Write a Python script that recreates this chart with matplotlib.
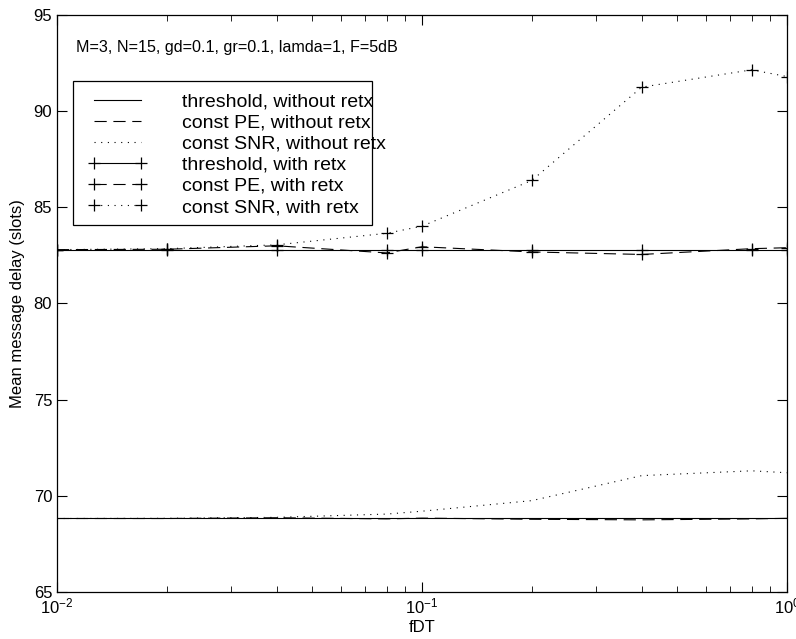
import matplotlib.pyplot as plt
from matplotlib.patches import Rectangle
from matplotlib.ticker import FixedLocator, LogLocator, NullFormatter

plt.rcParams['font.family'] = ['Liberation Sans', 'DejaVu Sans']

# Data
fdt = [0.01, 0.02, 0.04, 0.08, 0.1, 0.2, 0.4, 0.8, 1.0]

thr_no_retx = [68.83, 68.83, 68.83, 68.83, 68.83, 68.83, 68.83, 68.83, 68.83]
pe_no_retx = [68.82, 68.82, 68.86, 68.8, 68.84, 68.78, 68.75, 68.8, 68.83]
snr_no_retx = [68.82, 68.83, 68.88, 69.05, 69.2, 69.75, 71.05, 71.3, 71.2]

thr_retx = [82.8, 82.8, 82.8, 82.8, 82.8, 82.8, 82.8, 82.8, 82.8]
pe_retx = [82.8, 82.82, 83.0, 82.63, 82.95, 82.68, 82.55, 82.85, 82.9]
snr_retx = [82.8, 82.85, 83.05, 83.65, 84.02, 86.4, 91.25, 92.15, 91.8]

labels = [
    "threshold, without retx",
    "const PE, without retx",
    "const SNR, without retx",
    "threshold, with retx",
    "const PE, with retx",
    "const SNR, with retx",
]

dashed = (0, (11, 6))
dotted = (0, (1, 5))

fig = plt.figure(figsize=(7.96, 6.39), dpi=100)
ax = fig.add_axes([0.0716, 0.0736, 0.9171, 0.9029])

lw = 0.8
mk = dict(marker='+', ms=8, mew=0.9)
ax.semilogx(fdt, thr_no_retx, color='k', lw=lw, ls='-', label=labels[0])
ax.semilogx(fdt, pe_no_retx, color='k', lw=lw, ls=dashed, label=labels[1])
ax.semilogx(fdt, snr_no_retx, color='k', lw=lw, ls=dotted, label=labels[2])
ax.semilogx(fdt, thr_retx, color='k', lw=lw, ls='-', label=labels[3], **mk)
ax.semilogx(fdt, pe_retx, color='k', lw=lw, ls=dashed, label=labels[4], **mk)
ax.semilogx(fdt, snr_retx, color='k', lw=lw, ls=dotted, label=labels[5], **mk)

ax.set_xlim(0.01, 1)
ax.set_ylim(65, 95)
ax.yaxis.set_major_locator(FixedLocator([65, 70, 75, 80, 85, 90, 95]))
ax.xaxis.set_major_locator(LogLocator(base=10, numticks=10))
ax.xaxis.set_minor_locator(LogLocator(base=10, subs=range(2, 10), numticks=10))
ax.xaxis.set_minor_formatter(NullFormatter())

ax.tick_params(which='both', direction='in', top=True, right=True, labelsize=12)
ax.tick_params(which='major', length=7, width=0.8)
ax.tick_params(which='minor', length=4, width=0.6)
for s in ax.spines.values():
    s.set_linewidth(0.9)

ax.set_xlabel("fDT", fontsize=12, labelpad=2)
ax.set_ylabel("Mean message delay (slots)", fontsize=12, labelpad=6)

ax.text(0.026, 0.9445, "M=3, N=15, gd=0.1, gr=0.1, lamda=1, F=5dB",
        transform=ax.transAxes, fontsize=11.6, va='center', ha='left')

# legend box drawn by hand: in the reference the text runs past the frame
ax.add_patch(Rectangle((0.0219, 0.636), 0.4096, 0.2496, transform=ax.transAxes,
                       facecolor='white', edgecolor='k', lw=0.9, zorder=3))
leg = ax.legend(loc='upper left', bbox_to_anchor=(0.0425, 0.865), fontsize=14,
                frameon=False, numpoints=2, handlelength=3.0, handletextpad=1.85,
                labelspacing=0.18, borderpad=0, borderaxespad=0)
leg.set_zorder(4)

fig.savefig("out.png", dpi=100)
